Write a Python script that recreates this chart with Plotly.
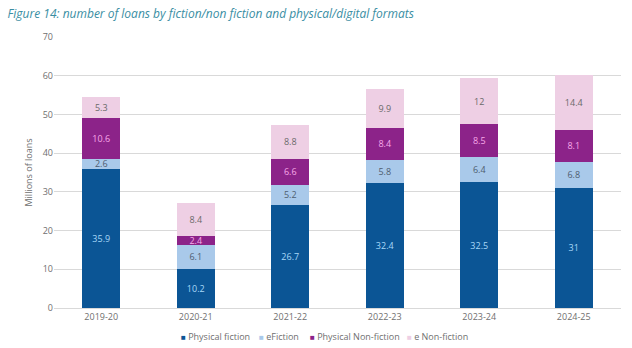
import plotly.graph_objects as go

years = ["2019-20", "2020-21", "2021-22", "2022-23", "2023-24", "2024-25"]
physical_fiction = [35.9, 10.2, 26.7, 32.4, 32.5, 31]
e_fiction = [2.6, 6.1, 5.2, 5.8, 6.4, 6.8]
physical_nonfiction = [10.6, 2.4, 6.6, 8.4, 8.5, 8.1]
e_nonfiction = [5.3, 8.4, 8.8, 9.9, 12, 14.4]
y_ticks = [0, 10, 20, 30, 40, 50, 60, 70]

FONT = "Open Sans, Lato, sans-serif"
GREY = "#6f6f6f"

# name, values, fill colour, label colour, legend x position (px)
series = [
    ("Physical fiction", physical_fiction, "#0b5595", "#a8d8f8", 179),
    ("eFiction", e_fiction, "#a9c9ea", "#4f5e70", 257),
    ("Physical Non-fiction", physical_nonfiction, "#8c2389", "#f7a8e8", 308),
    ("e Non-fiction", e_nonfiction, "#eecfe4", "#6a6a6a", 405),
]

ML, MR, MT, MB = 54, 11, 37, 40
W, H = 632, 348
plot_w = W - ML - MR
plot_h = H - MT - MB

fig = go.Figure()
for name, vals, color, txtcolor, _ in series:
    fig.add_trace(go.Bar(
        x=years, y=vals, name=name,
        marker=dict(color=color, line=dict(width=0)),
        text=[f"{v:g}" for v in vals],
        textposition="inside", insidetextanchor="middle", textangle=0,
        textfont=dict(color=txtcolor, size=9, family=FONT),
        constraintext="none", cliponaxis=False,
        hoverinfo="skip", showlegend=False,
    ))

# compact legend row below the axis
annotations = []
for name, _, color, _, lx in series:
    annotations.append(dict(
        xref="paper", yref="paper",
        x=(lx - ML) / plot_w, y=-(336 - (H - MB)) / plot_h,
        xanchor="left", yanchor="middle", showarrow=False,
        text=f"<span style='color:{color}; font-size:8px'>■</span> {name}",
        font=dict(family=FONT, size=9, color=GREY),
    ))

fig.update_layout(
    barmode="stack",
    bargap=0.6,
    width=W, height=H,
    margin=dict(l=ML, r=MR, t=MT, b=MB, autoexpand=False),
    plot_bgcolor="white", paper_bgcolor="white",
    uniformtext=dict(minsize=9, mode="show"),
    title=dict(
        text="<i>Figure 14: number of loans by fiction/non fiction and physical/digital formats</i>",
        x=0.012, xanchor="left", y=0.96, yanchor="middle",
        font=dict(family=FONT, size=12, color="#3a8ea3"),
    ),
    font=dict(family=FONT, color=GREY, size=9),
    showlegend=False,
    annotations=annotations,
)
fig.update_xaxes(
    showgrid=False, showline=True, linecolor="#d9d9d9", linewidth=1,
    ticks="", tickfont=dict(size=9, color=GREY),
)
fig.update_yaxes(
    range=[0, 70], tickvals=y_ticks, showgrid=True, gridcolor="#d9d9d9",
    gridwidth=1, zeroline=False, ticks="", ticklen=0,
    tickfont=dict(size=9, color=GREY),
    title=dict(text="Millions of loans", font=dict(size=9, color=GREY), standoff=8),
)

fig.write_html("out.html")
